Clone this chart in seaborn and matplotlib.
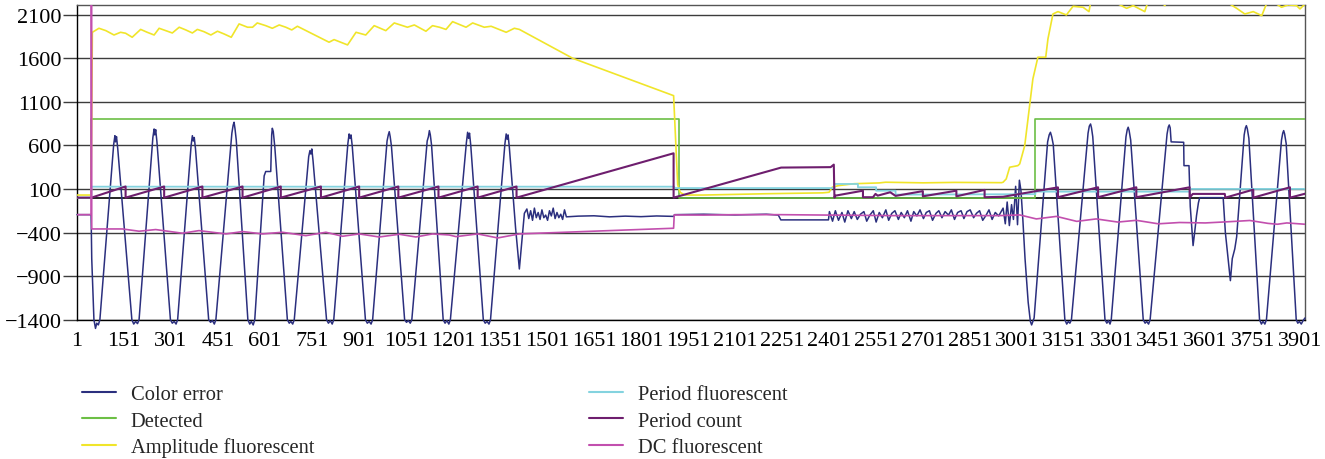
import matplotlib
matplotlib.use("Agg")
import matplotlib.pyplot as plt
import seaborn as sns
from matplotlib.lines import Line2D

# ---------------- data ----------------
x_ticks = [1, 151, 301, 451, 601, 751, 901, 1051, 1201, 1351, 1501, 1651, 1801, 1951,
           2101, 2251, 2401, 2551, 2701, 2851, 3001, 3151, 3301, 3451, 3601, 3751, 3901]
y_ticks = [-1400, -900, -400, 100, 600, 1100, 1600, 2100]

color_error = [
    (1, -195), (46, -195), (48, -700), (55, -1400), (60, -1500), (64, -1440), (69, -1460), (74, -1400),
    (118, 610), (122, 711), (124, 640), (127, 700), (131, 560),
    (176, -1400), (182, -1450), (188, -1420), (194, -1445), (199, -1400),
    (243, 690), (247, 788), (249, 720), (252, 780), (256, 640),
    (299, -1400), (305, -1440), (311, -1420), (317, -1450), (322, -1400),
    (365, 600), (369, 711), (372, 650), (375, 690), (379, 560),
    (421, -1400), (427, -1430), (433, -1410), (439, -1450), (444, -1400),
    (495, 740), (499, 830), (502, 865), (505, 790), (509, 660),
    (546, -1400), (552, -1450), (557, -1420), (563, -1460), (568, -1400),
    (598, 250), (603, 300), (619, 300), (622, 720), (624, 796), (627, 760), (632, 580),
    (672, -1400), (678, -1440), (683, -1420), (689, -1450), (694, -1400),
    (740, 470), (744, 540), (747, 500), (750, 559), (754, 420),
    (797, -1400), (803, -1440), (809, -1410), (815, -1450), (820, -1400),
    (865, 620), (869, 731), (872, 680), (875, 720), (879, 590),
    (921, -1400), (927, -1440), (933, -1420), (939, -1450), (944, -1400),
    (990, 650), (994, 720), (997, 757), (1000, 700), (1004, 590),
    (1046, -1400), (1052, -1430), (1058, -1410), (1064, -1440), (1069, -1400),
    (1118, 650), (1122, 700), (1125, 769), (1128, 720), (1132, 600),
    (1169, -1400), (1175, -1440), (1181, -1410), (1187, -1450), (1192, -1400),
    (1243, 630), (1247, 750), (1250, 680), (1253, 740), (1257, 600),
    (1297, -1400), (1303, -1440), (1309, -1420), (1315, -1450), (1320, -1400),
    (1366, 620), (1370, 731), (1373, 670), (1376, 720), (1380, 580),
    (1400, -350), (1412, -818), (1420, -500), (1428, -180),
    (1436, -130), (1442, -240), (1448, -150), (1454, -260), (1460, -120), (1466, -230),
    (1472, -170), (1478, -250), (1484, -140), (1490, -230), (1496, -200), (1502, -260),
    (1508, -150), (1514, -210), (1520, -120), (1526, -240), (1532, -170), (1538, -230),
    (1544, -190), (1550, -250), (1556, -140), (1562, -220),
    (1600, -212), (1650, -208), (1700, -220), (1750, -212), (1800, -218), (1850, -210),
    (1905, -215), (1907, -195), (2000, -190), (2100, -198), (2200, -190), (2238, -200),
    (2246, -255), (2398, -255),
    (2401, -160), (2411, -270), (2420, -150), (2430, -260), (2441, -170), (2450, -280),
    (2460, -150), (2471, -240), (2480, -160), (2490, -250), (2500, -190), (2511, -160),
    (2520, -270), (2530, -200), (2541, -150), (2550, -280), (2560, -170), (2570, -230),
    (2581, -140), (2590, -260), (2600, -180), (2610, -150), (2621, -250), (2630, -170),
    (2640, -230), (2650, -150), (2661, -270), (2670, -160), (2680, -210), (2690, -140),
    (2701, -240), (2710, -170), (2720, -150), (2730, -260), (2741, -180), (2750, -150),
    (2760, -230), (2770, -160), (2781, -200), (2790, -140), (2800, -250), (2810, -170),
    (2821, -150), (2830, -240), (2840, -160), (2850, -140), (2861, -230), (2870, -180),
    (2880, -150), (2890, -260), (2901, -200), (2910, -140), (2920, -250), (2930, -170),
    (2941, -210),
    (2955, -120), (2962, -300), (2968, -50), (2975, -320), (2982, -80), (2988, -250),
    (2995, 130), (3001, -310), (3007, 200), (3012, 80), (3018, -250), (3025, -700),
    (3035, -1200), (3042, -1420), (3046, -1460), (3050, -1420), (3054, -1380),
    (3097, 640), (3102, 720), (3106, 750), (3110, 700), (3115, 610),
    (3152, -1400), (3158, -1450), (3163, -1420), (3168, -1440), (3173, -1400),
    (3226, 740), (3230, 820), (3234, 845), (3237, 800), (3241, 700),
    (3280, -1400), (3286, -1440), (3291, -1410), (3296, -1450), (3300, -1400),
    (3347, 700), (3351, 780), (3354, 808), (3357, 770), (3362, 660),
    (3402, -1400), (3408, -1440), (3413, -1420), (3419, -1450), (3424, -1400),
    (3478, 730), (3482, 810), (3485, 834), (3488, 800), (3491, 640), (3531, 635),
    (3532, 367), (3548, 367), (3552, -100), (3561, -550), (3566, -400), (3572, -206),
    (3578, -60), (3582, 0), (3657, 0), (3664, -400), (3680, -952), (3686, -700),
    (3694, -588), (3700, -450),
    (3724, 720), (3728, 800), (3731, 826), (3734, 790), (3739, 680),
    (3773, -1400), (3779, -1450), (3784, -1420), (3790, -1450), (3795, -1400),
    (3843, 660), (3847, 740), (3850, 769), (3853, 730), (3858, 620),
    (3890, -1400), (3895, -1440), (3900, -1420), (3906, -1450), (3912, -1410), (3918, -1380),
]

detected = [(1, 0), (47, 0), (47, 900), (1922, 900), (1922, 0), (3058, 0), (3058, 900), (3918, 900)]

amplitude_fluorescent = [
    (1, 30), (46, 30), (50, 1897), (71, 1943), (93, 1916), (119, 1866), (140, 1897), (156, 1886),
    (177, 1840), (204, 1930), (225, 1897), (247, 1866), (263, 1943), (284, 1916), (305, 1889),
    (327, 1955), (348, 1924), (369, 1889), (385, 1930), (406, 1904), (428, 1866), (449, 1909),
    (470, 1878), (493, 1840), (518, 1993), (545, 1955), (561, 1955), (576, 2004), (603, 1973),
    (624, 1943), (646, 1981), (667, 1955), (686, 1924), (704, 1966), (805, 1783), (821, 1813),
    (864, 1752), (891, 1897), (922, 1866), (949, 1973), (986, 1916), (1013, 2004), (1055, 1955),
    (1077, 1981), (1114, 1909), (1135, 1973), (1157, 1955), (1178, 1930), (1199, 2019),
    (1242, 1955), (1263, 2004), (1300, 1955), (1322, 1966), (1370, 1897), (1396, 1943),
    (1412, 1930), (1582, 1599), (1904, 1170), (1910, 700), (1917, 150), (1925, 60), (1940, 30),
    (2000, 30), (2200, 45), (2380, 55), (2400, 62), (2410, 120), (2430, 138), (2480, 160),
    (2560, 169), (2580, 177), (2700, 170), (2800, 175), (2950, 172), (2955, 177), (2965, 215),
    (2976, 349), (3002, 367), (3008, 387), (3024, 597), (3050, 1362), (3066, 1611), (3091, 1611),
    (3098, 1820), (3114, 2107), (3130, 2134), (3157, 2096), (3178, 2195), (3210, 2184),
    (3229, 2134), (3237, 2300), (3300, 2320), (3322, 2222), (3349, 2172), (3370, 2203),
    (3407, 2134), (3418, 2260), (3445, 2300), (3460, 2240), (3471, 2203), (3478, 2260),
    (3560, 2320), (3670, 2260), (3673, 2233), (3700, 2172), (3726, 2107), (3753, 2134),
    (3780, 2088), (3795, 2222), (3827, 2222), (3843, 2184), (3864, 2211), (3891, 2203),
    (3902, 2165), (3915, 2211), (3918, 2215),
]

period_fluorescent = [
    (1, 0), (47, 0), (47, 126), (1906, 126), (1906, 110), (2417, 110), (2417, 157), (2492, 157),
    (2492, 119), (2550, 119), (2550, 80), (2612, 80), (2612, 35), (3058, 40), (3058, 69),
    (3551, 69), (3551, 100), (3918, 100),
]

period_count = [
    (1, 0), (47, 0), (156, 128), (156, 0), (279, 128), (279, 0), (401, 128), (401, 0),
    (529, 128), (529, 0), (651, 128), (651, 0), (779, 128), (779, 0), (901, 128), (901, 0),
    (1026, 128), (1026, 0), (1154, 128), (1154, 0), (1279, 128), (1279, 0), (1403, 128),
    (1403, 0), (1904, 509), (1904, 0), (2247, 345), (2405, 350), (2415, 379), (2417, 0),
    (2420, 23), (2508, 80), (2508, 5), (2540, 5), (2548, 43), (2555, 23), (2595, 62),
    (2612, 20), (2699, 75), (2699, 15), (2806, 80), (2806, 15), (2896, 89), (2896, 5),
    (2955, 10), (3130, 118), (3130, 5), (3258, 119), (3258, 5), (3380, 119), (3380, 5),
    (3550, 119), (3550, 0), (3560, 43), (3662, 43), (3664, 0), (3753, 92), (3753, 0),
    (3870, 119), (3870, 0), (3918, 45),
]

dc_fluorescent = [
    (1, -195), (46, -195), (47, 4000), (48, -359), (71, -359), (146, -359), (199, -385),
    (252, -366), (337, -408), (390, -378), (476, -416), (529, -389), (593, -416), (656, -397),
    (731, -436), (795, -397), (848, -443), (901, -416), (965, -451), (1029, -420), (1082, -451),
    (1135, -416), (1188, -428), (1210, -447), (1279, -416), (1343, -462), (1412, -416),
    (1904, -351), (1906, -198), (2000, -200), (2100, -195), (2240, -195), (2400, -200),
    (2600, -206), (2800, -206), (2944, -206), (3008, -198), (3061, -244), (3125, -215),
    (3190, -272), (3252, -244), (3321, -280), (3380, -260), (3450, -300), (3518, -285),
    (3600, -290), (3680, -275), (3742, -262), (3800, -295), (3830, -305), (3860, -290),
    (3918, -305),
]

series = [
    ("Color error", color_error, "#2B2F7E", 1.1),
    ("Detected", detected, "#6CBF45", 1.2),
    ("Amplitude fluorescent", amplitude_fluorescent, "#F0E52A", 1.2),
    ("Period fluorescent", period_fluorescent, "#84D3DF", 1.3),
    ("Period count", period_count, "#6E1E6E", 1.5),
    ("DC fluorescent", dc_fluorescent, "#C24FAE", 1.2),
]

# ---------------- figure ----------------
sns.set_theme(style="white")
plt.rcParams['font.family'] = ['Liberation Serif', 'DejaVu Serif']
plt.rcParams['axes.unicode_minus'] = True

W, H = 1325, 460
fig = plt.figure(figsize=(W / 100, H / 100), dpi=100)
left, right, top, bottom = 77, 1305, 6, 320.7
ax = fig.add_axes([left / W, 1 - bottom / H, (right - left) / W, (bottom - top) / H])

handles = []
for name, pts, col, lw in series:
    xs = [p[0] for p in pts]
    ys = [p[1] for p in pts]
    sns.lineplot(x=xs, y=ys, ax=ax, color=col, linewidth=lw, sort=False,
                 estimator=None, legend=False, zorder=3)
    if name == "Color error":
        ax.lines[-1].set_clip_on(False)
    handles.append(Line2D([], [], color=col, linewidth=1.5, label=name))

ax.set_xlim(1, 3918)
ax.set_ylim(-1400, 2210)
ax.set_xticks(x_ticks)
ax.set_xticklabels([str(v) for v in x_ticks])
ax.set_yticks(y_ticks)
ax.set_yticklabels([str(v).replace('-', '\u2212') for v in y_ticks])

for v in y_ticks:
    ax.axhline(v, color='#3c3c3c', linewidth=1.0, zorder=1)
ax.axhline(0, color='black', linewidth=1.2, zorder=1)

for side in ['top', 'right']:
    ax.spines[side].set_color('#555555')
    ax.spines[side].set_linewidth(1.0)
ax.spines['left'].set_color('black')
ax.spines['left'].set_linewidth(1.0)
ax.spines['bottom'].set_color('black')
ax.spines['bottom'].set_linewidth(1.0)

ax.tick_params(axis='y', left=True, length=10, width=1.0, color='#3c3c3c', pad=1,
               labelsize=16, labelcolor='black')
ax.tick_params(axis='x', bottom=False, length=0, pad=8, labelsize=16, labelcolor='black')
ax.set_xlabel('')
ax.set_ylabel('')

leg_kw = dict(loc='upper left', frameon=False, fontsize=14.8, borderpad=0, borderaxespad=0,
              handlelength=1.65, handletextpad=0.72, labelspacing=0.33)
fig.legend(handles=handles[:3], bbox_to_anchor=(82 / W, 1 - 386 / H), **leg_kw)
fig.legend(handles=handles[3:], bbox_to_anchor=(589 / W, 1 - 386 / H), **leg_kw)

fig.savefig('out.png', dpi=100)
